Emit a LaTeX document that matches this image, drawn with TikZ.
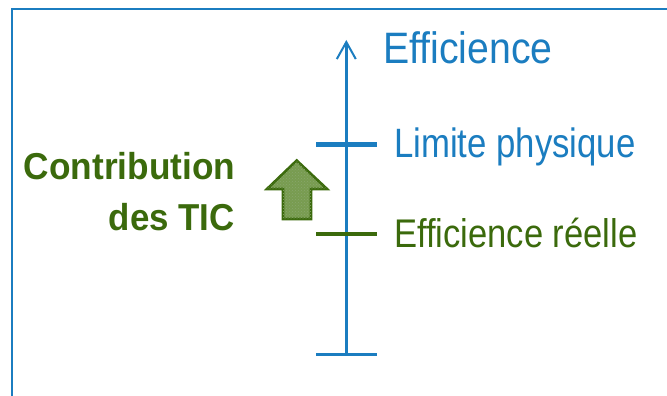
\documentclass[tikz,border=0pt]{standalone}
\usepackage{fontspec}
\setmainfont{Liberation Sans}
\usetikzlibrary{arrows.meta,patterns}
\definecolor{eblue}{RGB}{27,125,192}
\definecolor{egreen}{RGB}{59,106,12}
\definecolor{efill}{RGB}{120,156,80}
\tikzset{
  lbl/.style={inner sep=0pt, anchor=base west, transform shape},
  tick/.style={line width=4.4pt},
}
\begin{document}
\begin{tikzpicture}[x=1pt,y=-1pt]
\useasboundingbox (0,0) rectangle (667,396);
% frame
\draw[eblue, line width=2.2pt] (12,400) -- (12,9) -- (670,9);
% axis
\coordinate (bot) at (346.3,354.5);
\coordinate (top) at (346.3,40);
\draw[eblue, line width=2.6pt, -{Straight Barb[length=17pt,width=19pt,line width=2pt]}] (bot) -- (top);
% ticks
\coordinate (b1) at (316,354.5); \coordinate (b2) at (377,354.5);
\draw[eblue, line width=2.5pt] (b1) -- (b2);
\coordinate (l1) at (316,144.5); \coordinate (l2) at (377,144.5);
\draw[eblue, tick] (l1) -- (l2);
\coordinate (r1) at (316,234); \coordinate (r2) at (377,234);
\draw[egreen, tick] (r1) -- (r2);
% labels
\node[lbl, eblue, xscale=0.892, font=\fontsize{44}{50}\selectfont] (eff) at (383,63.3) {Efficience};
\node[lbl, eblue, xscale=0.847, font=\fontsize{41}{46}\selectfont] (lim) at (394,157) {Limite physique};
\node[lbl, egreen, xscale=0.864, font=\fontsize{40}{46}\selectfont] (ree) at (394,247.3) {Efficience réelle};
\node[inner sep=0pt, anchor=base east, transform shape, egreen, xscale=0.94, font=\bfseries\fontsize{37.5}{44}\selectfont] (c1) at (235.5,179) {Contribution};
\node[inner sep=0pt, anchor=base east, transform shape, egreen, xscale=0.93, font=\bfseries\fontsize{37.5}{44}\selectfont] (c2) at (235,230) {des TIC};
% block arrow
\draw[egreen, line width=2.6pt, line join=miter, fill=efill,
      postaction={pattern=crosshatch dots, pattern color=egreen!60!white}]
  (296.7,160.5) -- (327,189) -- (311,189) -- (311,219) -- (283,219) -- (283,189) -- (267,189) -- cycle;
\end{tikzpicture}
\end{document}
